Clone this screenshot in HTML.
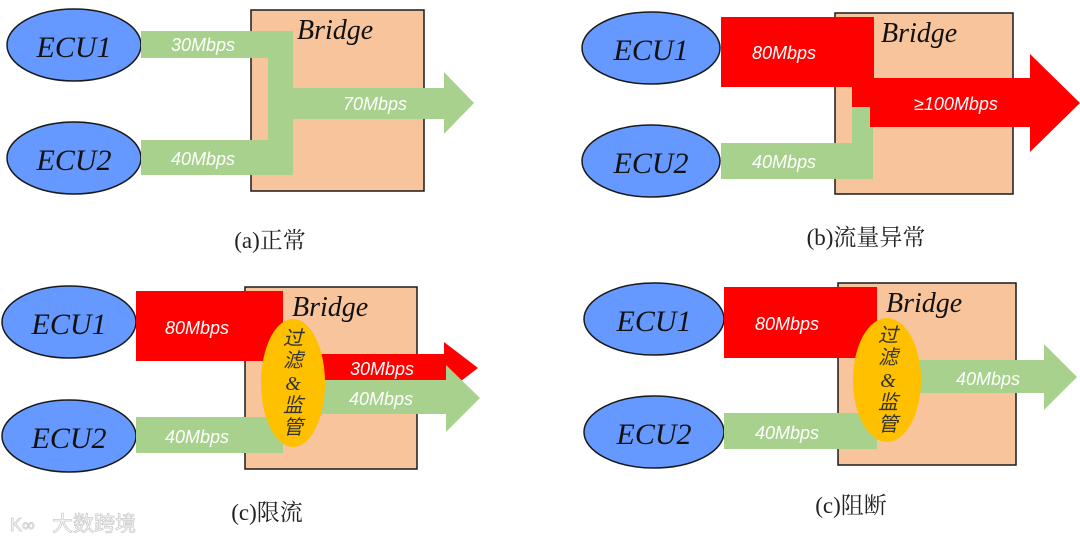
<!DOCTYPE html>
<html><head><meta charset="utf-8"><style>
html,body{margin:0;padding:0;background:#fff;}
svg{display:block}
.e{fill:#6699ff;stroke:#1a1a1a;stroke-width:1.5}
.b{fill:#f8c49c;stroke:#1a1a1a;stroke-width:1.5}
.et{font-family:"Liberation Serif",serif;font-style:italic;font-size:30px;fill:#111;text-anchor:middle}
.bt{font-family:"Liberation Serif",serif;font-style:italic;font-size:28px;fill:#111}
.m{font-family:"Liberation Sans",sans-serif;font-style:italic;font-size:18px;fill:#fff}
.c{font-family:"Liberation Serif","Noto Serif CJK SC",serif;font-size:23px;fill:#222;text-anchor:middle}
.v{font-family:"Liberation Serif","Noto Sans CJK SC",sans-serif;font-style:italic;font-size:20px;fill:#333;text-anchor:middle}
</style></head><body>
<svg width="1080" height="544" viewBox="0 0 1080 544" xmlns="http://www.w3.org/2000/svg">
<!-- Panel a -->
<rect class="b" x="251" y="10" width="173" height="181"/>
<text class="bt" x="297" y="39">Bridge</text>
<ellipse class="e" cx="74" cy="45" rx="67" ry="36"/>
<ellipse class="e" cx="74" cy="158" rx="67" ry="36"/>
<text class="et" x="74" y="57">ECU1</text>
<text class="et" x="74" y="170">ECU2</text>
<g fill="#a9d18e">
<rect x="141" y="31" width="152" height="27"/>
<rect x="268" y="31" width="25" height="144"/>
<rect x="141" y="140" width="152" height="35"/>
<polygon points="293,88 444,88 444,72 474,103 444,134 444,119 293,119"/>
</g>
<text class="m" x="171" y="51">30Mbps</text>
<text class="m" x="171" y="165">40Mbps</text>
<text class="m" x="343" y="110">70Mbps</text>
<text class="c" x="270" y="248">(a)正常</text>

<!-- Panel b -->
<rect class="b" x="835" y="13" width="178" height="181"/>
<text class="bt" x="881" y="42">Bridge</text>
<ellipse class="e" cx="651" cy="48" rx="69" ry="36"/>
<ellipse class="e" cx="651" cy="161" rx="69" ry="36"/>
<text class="et" x="651" y="60">ECU1</text>
<text class="et" x="651" y="173">ECU2</text>
<g fill="#ff0000">
<rect x="721" y="17" width="153" height="70"/>
<rect x="852" y="78" width="22" height="30"/>
<polygon points="852,78 1030,78 1030,54 1080,103 1030,152 1030,127 870,127 870,107 852,107"/>
</g>
<g fill="#a9d18e">
<rect x="721" y="143" width="152" height="36"/>
<rect x="852" y="107" width="18" height="72"/>
<rect x="852" y="127" width="21" height="52"/>
</g>
<text class="m" x="752" y="59">80Mbps</text>
<text class="m" x="914" y="110">≥100Mbps</text>
<text class="m" x="752" y="168">40Mbps</text>
<text class="c" x="866" y="245">(b)流量异常</text>

<!-- Panel c -->
<rect class="b" x="245" y="287" width="172" height="182"/>
<text class="bt" x="292" y="316">Bridge</text>
<ellipse class="e" cx="69" cy="322" rx="67" ry="36"/>
<ellipse class="e" cx="69" cy="436" rx="67" ry="36"/>
<text class="et" x="69" y="334">ECU1</text>
<text class="et" x="69" y="448">ECU2</text>
<rect x="136" y="291" width="147" height="70" fill="#ff0000"/>
<rect x="136" y="417" width="147" height="36" fill="#a9d18e"/>
<polygon fill="#ff0000" points="320,354 444,354 444,342 478,368 444,394 444,380 320,380"/>
<polygon fill="#a9d18e" points="320,380 446,380 446,365 480,398 446,432 446,414 320,414"/>
<ellipse cx="293" cy="383" rx="32" ry="64" fill="#ffc000"/>
<text class="v" x="293" y="345">过</text>
<text class="v" x="293" y="367">滤</text>
<text class="v" x="293" y="390">&amp;</text>
<text class="v" x="293" y="412">监</text>
<text class="v" x="293" y="434">管</text>
<text class="m" x="350" y="375">30Mbps</text>
<text class="m" x="349" y="405">40Mbps</text>
<text class="m" x="165" y="334">80Mbps</text>
<text class="m" x="165" y="443">40Mbps</text>
<text class="c" x="267" y="520">(c)限流</text>
<text x="52" y="531" font-family="Liberation Sans,'Noto Sans CJK SC',sans-serif" font-size="21" fill="#fff" stroke="#ccc" stroke-width="0.8">大数跨境</text>
<text x="10" y="531" font-family="Liberation Sans,sans-serif" font-size="18" fill="#fff" stroke="#ccc" stroke-width="0.8">K∞</text>

<!-- Panel d -->
<rect class="b" x="838" y="283" width="178" height="182"/>
<text class="bt" x="886" y="312">Bridge</text>
<ellipse class="e" cx="654" cy="319" rx="70" ry="36"/>
<ellipse class="e" cx="654" cy="432" rx="70" ry="36"/>
<text class="et" x="654" y="331">ECU1</text>
<text class="et" x="654" y="444">ECU2</text>
<rect x="724" y="287" width="153" height="71" fill="#ff0000"/>
<rect x="724" y="413" width="153" height="36" fill="#a9d18e"/>
<polygon fill="#a9d18e" points="915,360 1044,360 1044,344 1077,377 1044,410 1044,393 915,393"/>
<ellipse cx="887" cy="380" rx="34" ry="62" fill="#ffc000"/>
<text class="v" x="888" y="342">过</text>
<text class="v" x="888" y="364">滤</text>
<text class="v" x="888" y="387">&amp;</text>
<text class="v" x="888" y="409">监</text>
<text class="v" x="888" y="431">管</text>
<text class="m" x="755" y="330">80Mbps</text>
<text class="m" x="755" y="439">40Mbps</text>
<text class="m" x="956" y="385">40Mbps</text>
<text class="c" x="851" y="513">(c)阻断</text>
</svg>
</body></html>
